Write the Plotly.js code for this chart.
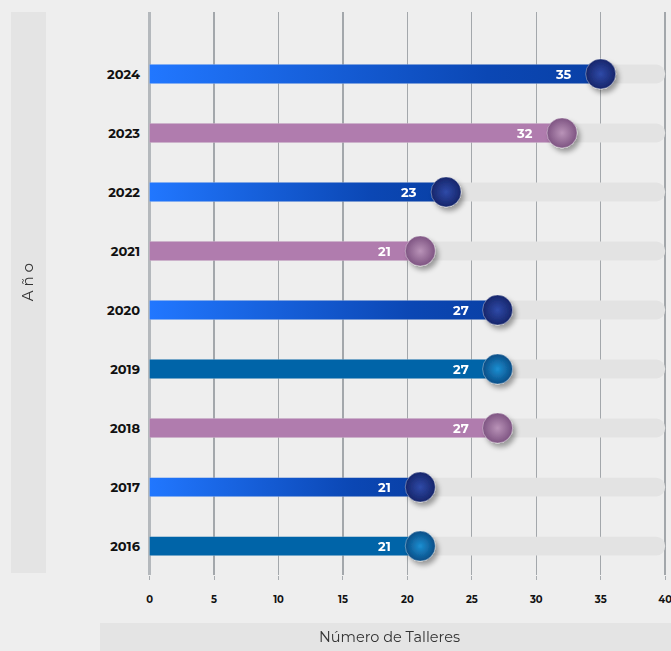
<!DOCTYPE html>
<html><head><meta charset="utf-8">
<script src="https://cdn.plot.ly/plotly-3.0.1.min.js"></script>
<style>html,body{margin:0;padding:0;background:#eeeeee;} #chart{width:671px;height:651px;}</style>
</head><body><div id="chart"></div>
<script>
// ---- data ----
const years = ['2024','2023','2022','2021','2020','2019','2018','2017','2016'];
const talleres = [35, 32, 23, 21, 27, 27, 27, 21, 21];
const colorGroup = ['blue','purple','blue','purple','blue','steel','purple','blue','steel'];
const xTicks = [0, 5, 10, 15, 20, 25, 30, 35, 40];
const xMax = 40;
const xTitle = 'Número de Talleres';
const yTitle = 'A ñ o';

// ---- styles ----
const FONT = 'Montserrat, "Open Sans", Roboto, sans-serif';
const styles = {
  blue:   {bar: '#1558d8', ball: '#16256a', ballCenter: '#2f4aa8'},
  purple: {bar: '#b07cae', ball: '#7e5482', ballCenter: '#b993b8'},
  steel:  {bar: '#0064a8', ball: '#0a4d86', ballCenter: '#1c8fd2'}
};
const groups = ['blue','purple','steel'];
const yOrder = years.slice().reverse();   // bottom -> top

const traces = [];
// background tracks
traces.push({
  type: 'bar', orientation: 'h', y: years, x: years.map(() => xMax),
  marker: {color: '#e3e3e3', cornerradius: 9}, width: 0.32,
  hoverinfo: 'skip', name: 'track'
});
// coloured bars
groups.forEach(g => {
  const idx = years.map((y, i) => i).filter(i => colorGroup[i] === g);
  traces.push({
    type: 'bar', orientation: 'h',
    y: idx.map(i => years[i]), x: idx.map(i => talleres[i]),
    marker: {color: styles[g].bar, cornerradius: 9}, width: 0.32,
    hoverinfo: 'skip', name: 'bar-' + g
  });
});
// balls
groups.forEach(g => {
  const idx = years.map((y, i) => i).filter(i => colorGroup[i] === g);
  traces.push({
    type: 'scatter', mode: 'markers',
    y: idx.map(i => years[i]), x: idx.map(i => talleres[i]),
    marker: {size: 30, color: styles[g].ball,
             gradient: {type: 'radial', color: styles[g].ballCenter},
             line: {width: 1, color: 'rgba(255,255,255,0.35)'}},
    hoverinfo: 'skip', name: 'ball-' + g, cliponaxis: false
  });
});

// value labels (category position looked up through the axis category order)
const annotations = years.map((y, i) => ({
  x: talleres[i], y: yOrder.indexOf(y), xref: 'x', yref: 'y', text: String(talleres[i]),
  showarrow: false, xanchor: 'right', yanchor: 'middle', xshift: -27,
  font: {family: FONT, size: 13, color: '#ffffff', weight: 700}
}));
annotations.push({
  xref: 'paper', yref: 'paper', x: -0.2345, y: 0.52, text: yTitle, textangle: -90,
  xanchor: 'center', yanchor: 'middle',
  showarrow: false, font: {family: FONT, size: 15, color: '#333333'}
});
annotations.push({
  xref: 'paper', yref: 'paper', x: 0.463, y: -0.110, text: xTitle,
  xanchor: 'center', yanchor: 'middle',
  showarrow: false, font: {family: FONT, size: 14.5, color: '#333333'}
});

const layout = {
  width: 671, height: 651,
  margin: {l: 149, r: 2, t: 12, b: 76},
  paper_bgcolor: '#eeeeee', plot_bgcolor: 'rgba(0,0,0,0)',
  barmode: 'overlay', showlegend: false, hovermode: false,
  xaxis: {
    range: [-0.05, 40.3], tickvals: xTicks, showgrid: true, gridcolor: '#a3a7ab', gridwidth: 1.3,
    zeroline: true, zerolinecolor: '#b4b8bc', zerolinewidth: 2.5,
    ticks: 'outside', ticklen: 4, tickcolor: '#a8acb0', ticklabelstandoff: 11,
    ticklabeloverflow: 'allow',
    tickfont: {family: FONT, size: 10, color: '#111111', weight: 700}, fixedrange: true
  },
  yaxis: {
    type: 'category', categoryorder: 'array', categoryarray: yOrder,
    range: [-0.49, 9.05], showgrid: false, zeroline: false, ticks: '', ticklabelstandoff: 8,
    tickfont: {family: FONT, size: 13, color: '#111111', weight: 700}, fixedrange: true
  },
  shapes: [
    {type: 'rect', xref: 'paper', yref: 'paper', x0: -0.2654, x1: -0.1981, y0: 0.0036, y1: 1.0,
     fillcolor: '#e4e4e4', line: {width: 0}, layer: 'below'},
    {type: 'rect', xref: 'paper', yref: 'paper', x0: -0.0942, x1: 1.01, y0: -0.0853, y1: -0.136,
     fillcolor: '#e4e4e4', line: {width: 0}, layer: 'below'}
  ],
  annotations: annotations
};

function decorate() {
  const gd = document.getElementById('chart');
  const svg = gd.querySelector('.main-svg');
  if (!svg) return;
  const defs = svg.querySelector('defs');
  const NS = 'http://www.w3.org/2000/svg';
  if (!svg.querySelector('#blueGrad')) {
    const lg = document.createElementNS(NS, 'linearGradient');
    lg.setAttribute('id', 'blueGrad');
    lg.setAttribute('x1', '0'); lg.setAttribute('x2', '1'); lg.setAttribute('y1', '0'); lg.setAttribute('y2', '0');
    [['0', '#2177ff'], ['0.75', '#0b47b4'], ['1', '#0940a6']].forEach(s => {
      const st = document.createElementNS(NS, 'stop');
      st.setAttribute('offset', s[0]); st.setAttribute('stop-color', s[1]);
      lg.appendChild(st);
    });
    defs.appendChild(lg);
    const f = document.createElementNS(NS, 'filter');
    f.setAttribute('id', 'ballShadow');
    f.setAttribute('x', '-60%'); f.setAttribute('y', '-60%'); f.setAttribute('width', '220%'); f.setAttribute('height', '220%');
    const ds = document.createElementNS(NS, 'feDropShadow');
    ds.setAttribute('dx', '3'); ds.setAttribute('dy', '4'); ds.setAttribute('stdDeviation', '2.5');
    ds.setAttribute('flood-color', '#000'); ds.setAttribute('flood-opacity', '0.35');
    f.appendChild(ds);
    defs.appendChild(f);
  }
  const barTraces = gd.querySelectorAll('.barlayer .trace');
  if (barTraces[1]) barTraces[1].querySelectorAll('path').forEach(p => { p.style.fill = 'url(#blueGrad)'; });
  gd.querySelectorAll('.scatterlayer .trace').forEach(t => t.setAttribute('filter', 'url(#ballShadow)'));
}

Plotly.newPlot('chart', traces, layout, {displayModeBar: false, staticPlot: true}).then(decorate);
</script>
</body></html>
